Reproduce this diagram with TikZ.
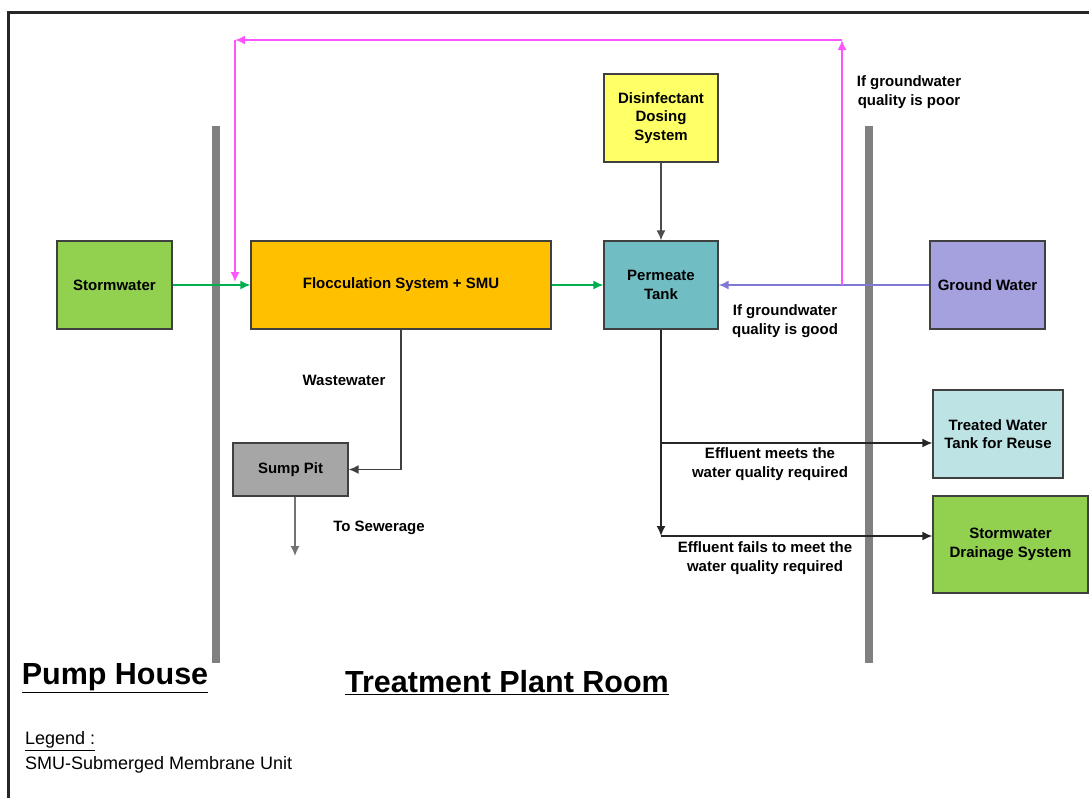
\documentclass[tikz,border=0pt]{standalone}
\usepackage{fontspec}
\setmainfont{Liberation Sans}
\usepackage{xcolor}
\usetikzlibrary{arrows.meta}

\definecolor{boxgreen}{HTML}{92D050}
\definecolor{boxorange}{HTML}{FFC000}
\definecolor{boxteal}{HTML}{70BDC3}
\definecolor{boxyellow}{HTML}{FFFF66}
\definecolor{boxlilac}{HTML}{A5A0DE}
\definecolor{boxgrey}{HTML}{A6A6A6}
\definecolor{boxice}{HTML}{BDE3E5}
\definecolor{flowgreen}{HTML}{00B050}
\definecolor{flowblue}{HTML}{7F78D4}
\definecolor{flowpink}{HTML}{FF55FF}

\begin{document}
\begin{tikzpicture}[x=1pt, y=-1pt,
  unit/.style={draw=black!75, line width=1.3pt, inner sep=0pt, align=center,
    font=\fontsize{15}{18.5}\selectfont\bfseries},
  lbl/.style={align=center, font=\fontsize{15}{18.5}\selectfont\bfseries},
  flow/.style={line width=1.6pt, -{Latex[length=10pt,width=9pt]}}]
  \useasboundingbox (0,0) rectangle (1089,798);

  % Frame
  \draw[line width=3pt, black!85] (8,798) -- (8,12) -- (1089,12);

  % Walls
  \fill[gray] (212,126) rectangle (220,663);
  \fill[gray] (865,126) rectangle (873,663);

  % Units
  \node[unit, fill=boxgreen, minimum width=115, minimum height=88] (storm) at (114.5,285) {Stormwater};
  \node[unit, fill=boxorange, minimum width=300, minimum height=88] (floc) at (401,285) {Flocculation System + SMU};
  \node[unit, fill=boxteal, minimum width=114, minimum height=88] (perm) at (661,285) {Permeate\\Tank};
  \node[unit, fill=boxyellow, minimum width=114, minimum height=88] (dose) at (661,118) {Disinfectant\\Dosing\\System};
  \node[unit, fill=boxlilac, minimum width=115, minimum height=88] (ground) at (987.5,285) {Ground Water};
  \node[unit, fill=boxgrey, minimum width=115, minimum height=53] (sump) at (290.5,469.5) {Sump Pit};
  \node[unit, fill=boxice, minimum width=130, minimum height=88] (treated) at (998,434) {Treated Water\\Tank for Reuse};
  \node[unit, fill=boxgreen, minimum width=155, minimum height=97] (drain) at (1010.5,544.5) {Stormwater\\Drainage System};

  % Helper points
  \coordinate (poor) at (842,285);
  \coordinate (poortop) at (842,40);
  \coordinate (backtop) at (235,40);
  \coordinate (backin) at (235,282);
  \coordinate (sewer) at (295,556);
  \coordinate (meet) at (661,443);
  \coordinate (fail) at (661,536);

  % Water flows
  \draw[flow, flowgreen] (storm) -- (floc);
  \draw[flow, flowgreen] (floc) -- (perm);
  \draw[flow, flowblue] (ground) -- (perm);
  \draw[flow, flowpink] (poor) -- (poortop);
  \draw[flow, flowpink] (poortop) -- (backtop);
  \draw[flow, flowpink] (backtop) -- (backin);
  \draw[flow, black!70] (dose) -- (perm);
  \draw[flow, black!75] (floc.south) |- (sump.east);
  \draw[flow, black!55] (sump.south -| sewer) -- (sewer);
  \draw[flow, black!85] (perm.south) -- (fail);
  \draw[flow, black!85] (meet) -- (meet -| treated.west);
  \draw[flow, black!85] (fail) -- (fail -| drain.west);

  % Labels
  \node[lbl] (wastelbl) at (344,380) {Wastewater};
  \node[lbl] (sewerlbl) at (379,528) {To Sewerage};
  \node[lbl] (goodlbl) at (785,321) {If groundwater\\quality is good};
  \node[lbl] (poorlbl) at (909,92) {If groundwater\\quality is poor};
  \node[lbl] (meetlbl) at (770,464) {Effluent meets the\\water quality required};
  \node[lbl] (faillbl) at (765,558) {Effluent fails to meet the\\water quality required};

  % Rooms
  \node[font=\fontsize{30.5}{36}\selectfont\bfseries] (pumphouse) at (115,678) {\underline{Pump House}};
  \node[font=\fontsize{30.5}{36}\selectfont\bfseries] (plantroom) at (507,683) {\underline{Treatment Plant Room}};

  % Legend
  \node[anchor=west, inner sep=0pt, font=\fontsize{18}{22}\selectfont] (legend) at (25,741) {\underline{Legend :}};
  \node[anchor=west, inner sep=0pt, font=\fontsize{18}{22}\selectfont] (legendsmu) at (25,765) {SMU-Submerged Membrane Unit};
\end{tikzpicture}
\end{document}
